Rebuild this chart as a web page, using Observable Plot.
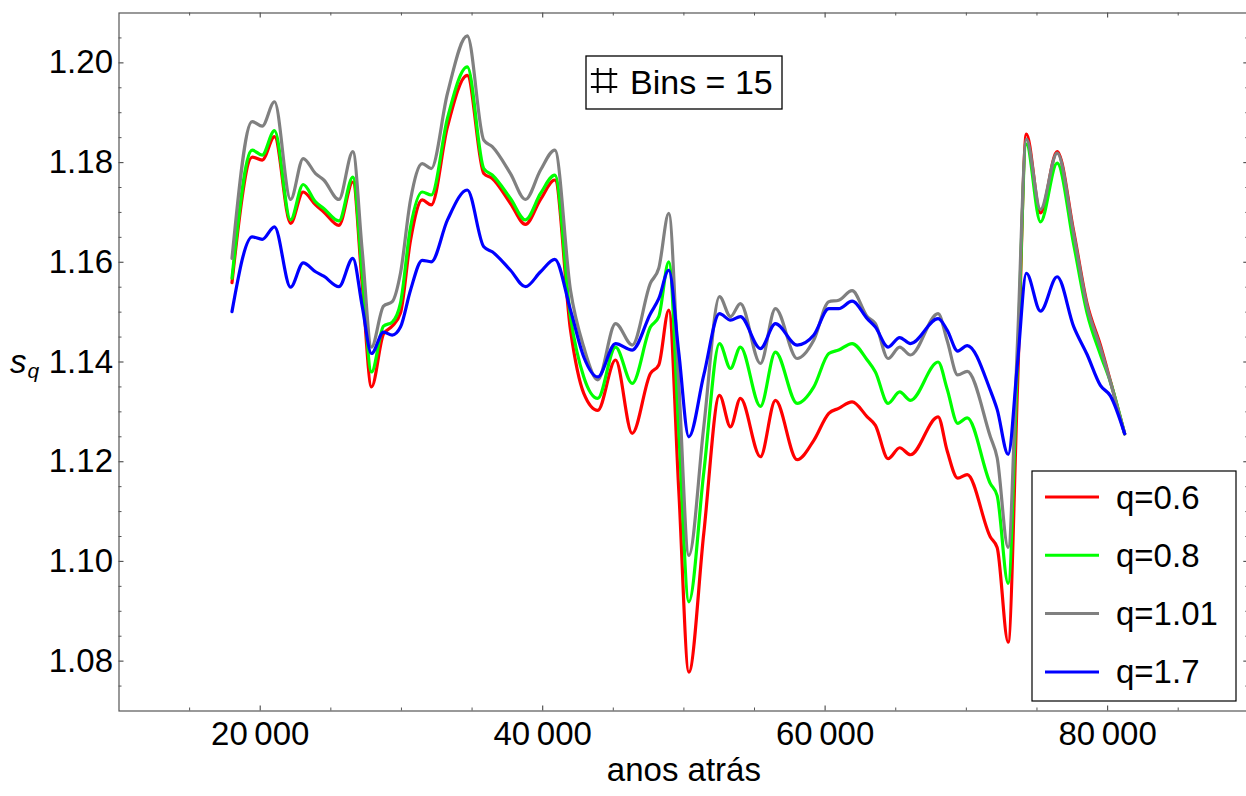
<!DOCTYPE html>
<html>
<head>
<meta charset="utf-8">
<script src="https://cdn.jsdelivr.net/npm/d3@7"></script>
<script src="https://cdn.jsdelivr.net/npm/@observablehq/plot@0.6"></script>
<style>
  html, body { margin: 0; padding: 0; background: #fff; }
  svg { display: block; }
</style>
</head>
<body>
<div id="chart"></div>
<script>
// ---------- data ----------
const years = [18000, 19430, 20140, 21010, 22150, 23040, 23920, 24500, 25570, 26560,
  27220, 27880, 28730, 29350, 29930, 30640, 31470, 32110, 33260, 34660,
  35830, 36430, 37720, 38780, 39850, 40860, 41970, 42910, 43900, 45160,
  46340, 47630, 48220, 48930, 49640, 50350, 51410, 52520, 53300, 54000,
  55420, 56480, 58020, 59200, 60260, 60960, 61910, 62980, 63560, 64460,
  65280, 66040, 68000, 68640, 69390, 70060, 71700, 72180, 72960, 73620,
  74250, 75250, 76430, 77600, 78550, 79490, 80200, 81210];

const q06 = [1.1559, 1.1811, 1.1805, 1.1852, 1.1678, 1.1741, 1.1715, 1.1701, 1.1674, 1.1761,
  1.1556, 1.1350, 1.1456, 1.1472, 1.1498, 1.1644, 1.1725, 1.1715, 1.1872, 1.1975,
  1.1778, 1.1768, 1.1718, 1.1676, 1.1726, 1.1765, 1.1464, 1.1337, 1.1303, 1.1404,
  1.1257, 1.1377, 1.1394, 1.1504, 1.1141, 1.0778, 1.1057, 1.1333, 1.1270, 1.1327,
  1.1210, 1.1323, 1.1204, 1.1243, 1.1297, 1.1307, 1.1320, 1.1290, 1.1273, 1.1206,
  1.1228, 1.1214, 1.1290, 1.1222, 1.1167, 1.1174, 1.1049, 1.1028, 1.0838, 1.1348,
  1.1857, 1.1699, 1.1822, 1.1662, 1.1517, 1.1434, 1.1362, 1.1256];

const q08 = [1.1568, 1.1825, 1.1815, 1.1864, 1.1685, 1.1756, 1.1721, 1.1708, 1.1683, 1.1771,
  1.1576, 1.1380, 1.1472, 1.1480, 1.1518, 1.1670, 1.1741, 1.1735, 1.1889, 1.1992,
  1.1788, 1.1775, 1.1728, 1.1685, 1.1738, 1.1775, 1.1490, 1.1370, 1.1327, 1.1430,
  1.1357, 1.1470, 1.1491, 1.1601, 1.1259, 1.0919, 1.1179, 1.1437, 1.1387, 1.1430,
  1.1311, 1.1420, 1.1317, 1.1350, 1.1417, 1.1424, 1.1437, 1.1404, 1.1380, 1.1317,
  1.1340, 1.1323, 1.1400, 1.1346, 1.1277, 1.1288, 1.1156, 1.1132, 1.0956, 1.1397,
  1.1837, 1.1681, 1.1799, 1.1636, 1.1498, 1.1415, 1.1360, 1.1256];

const q101 = [1.1608, 1.1882, 1.1873, 1.1922, 1.1726, 1.1808, 1.1778, 1.1765, 1.1726, 1.1822,
  1.1624, 1.1430, 1.1512, 1.1521, 1.1578, 1.1725, 1.1798, 1.1788, 1.1939, 1.2054,
  1.1845, 1.1832, 1.1778, 1.1726, 1.1785, 1.1825, 1.1544, 1.1430, 1.1364, 1.1477,
  1.1434, 1.1558, 1.1588, 1.1698, 1.1356, 1.1012, 1.1271, 1.1531, 1.1491, 1.1517,
  1.1397, 1.1507, 1.1407, 1.1444, 1.1521, 1.1524, 1.1543, 1.1491, 1.1477, 1.1407,
  1.1430, 1.1414, 1.1497, 1.1443, 1.1374, 1.1381, 1.1250, 1.1208, 1.1028, 1.1438,
  1.1847, 1.1706, 1.1819, 1.1657, 1.1512, 1.1429, 1.1360, 1.1256];

const q17 = [1.1501, 1.1651, 1.1646, 1.1671, 1.1550, 1.1599, 1.1581, 1.1572, 1.1551, 1.1608,
  1.1512, 1.1417, 1.1460, 1.1454, 1.1470, 1.1544, 1.1604, 1.1601, 1.1685, 1.1745,
  1.1631, 1.1621, 1.1584, 1.1551, 1.1581, 1.1606, 1.1504, 1.1410, 1.1370, 1.1437,
  1.1424, 1.1497, 1.1527, 1.1584, 1.1418, 1.1250, 1.1374, 1.1497, 1.1484, 1.1491,
  1.1427, 1.1477, 1.1434, 1.1454, 1.1507, 1.1507, 1.1522, 1.1487, 1.1470, 1.1430,
  1.1449, 1.1437, 1.1487, 1.1464, 1.1422, 1.1433, 1.1343, 1.1305, 1.1215, 1.1397,
  1.1578, 1.1502, 1.1571, 1.1471, 1.1415, 1.1353, 1.1332, 1.1256];

const seriesNames = ["q=0.6", "q=0.8", "q=1.01", "q=1.7"];
const seriesColors = ["#ff0000", "#00ff00", "#808080", "#0000ff"];
const seriesValues = [q06, q08, q101, q17];

const xDomain = [10000, 90000];
const yDomain = [1.07, 1.21];
const xTicks = [20000, 40000, 60000, 80000];
const xMinorTicks = [15000, 25000, 30000, 35000, 45000, 50000, 55000, 65000, 70000, 75000, 85000];
const yTicks = [1.08, 1.10, 1.12, 1.14, 1.16, 1.18, 1.20];
const yMinorTicks = [1.075, 1.085, 1.09, 1.095, 1.105, 1.11, 1.115, 1.125, 1.13, 1.135, 1.145,
  1.15, 1.155, 1.165, 1.17, 1.175, 1.185, 1.19, 1.195, 1.205];

const xLabel = "anos atrás";
const yLabelMain = "s";
const yLabelSub = "q";
const noteSymbol = "\u2317";
const noteText = "Bins = 15";

// ---------- long table ----------
const rows = [];
seriesNames.forEach((name, i) => {
  years.forEach((yr, j) => rows.push({year: yr, value: seriesValues[i][j], series: name}));
});

// ---------- layout ----------
const W = 1246, H = 796;
const mL = 118.5, mT = 12.5, mB = 85.5, mR = -2.3;
const frameW = W - mL - mR, frameH = H - mT - mB;
const axisColor = "#555";
const FONT = "'Liberation Sans', Arial, Helvetica, sans-serif";
const fmtX = d => { const s = String(d); return s.slice(0, s.length - 3) + "\u2009" + s.slice(-3); };

const plot = Plot.plot({
  width: W,
  height: H,
  marginLeft: mL,
  marginTop: mT,
  marginBottom: mB,
  marginRight: mR,
  style: {fontFamily: FONT, fontSize: "33px", color: "black", background: "white", overflow: "visible"},
  x: {domain: xDomain, label: null},
  y: {domain: yDomain, label: null},
  color: {domain: seriesNames, range: seriesColors},
  marks: [
    Plot.line(rows, {x: "year", y: "value", z: "series", stroke: "series",
      curve: "monotone-x", strokeWidth: 3.2, strokeLinejoin: "round"}),
    Plot.frame({stroke: axisColor, strokeWidth: 1.2}),
    // inward ticks (bottom / top)
    Plot.ruleX(xTicks, {x: d => d, insetTop: frameH - 5, stroke: axisColor, strokeWidth: 1.2}),
    Plot.ruleX(xMinorTicks, {x: d => d, insetTop: frameH - 3, stroke: axisColor, strokeWidth: 1}),
    Plot.ruleX(xTicks, {x: d => d, insetBottom: frameH - 5, stroke: axisColor, strokeWidth: 1.2}),
    Plot.ruleX(xMinorTicks, {x: d => d, insetBottom: frameH - 3, stroke: axisColor, strokeWidth: 1}),
    // inward ticks (left / right)
    Plot.ruleY(yTicks, {y: d => d, insetRight: frameW - 5, stroke: axisColor, strokeWidth: 1.2}),
    Plot.ruleY(yMinorTicks, {y: d => d, insetRight: frameW - 3, stroke: axisColor, strokeWidth: 1}),
    Plot.ruleY(yTicks, {y: d => d, insetLeft: frameW - 5, stroke: axisColor, strokeWidth: 1.2}),
    Plot.ruleY(yMinorTicks, {y: d => d, insetLeft: frameW - 3, stroke: axisColor, strokeWidth: 1}),
    // tick labels
    Plot.axisX({ticks: xTicks, tickFormat: fmtX, tickSize: 0, tickPadding: 11, label: null,
      fontSize: 33, fill: "black"}),
    Plot.axisY({ticks: yTicks, tickFormat: d => d.toFixed(2), tickSize: 0, tickPadding: 6, label: null,
      fontSize: 33, fill: "black"}),
    // axis labels
    Plot.text([xLabel], {text: d => d, frameAnchor: "bottom", dy: 70, fontSize: 33, fill: "black"}),
    Plot.text([yLabelMain], {text: d => d, frameAnchor: "left", textAnchor: "start", dx: -109, dy: 0,
      fontSize: 33, fontStyle: "italic", fill: "black"}),
    Plot.text([yLabelSub], {text: d => d, frameAnchor: "left", textAnchor: "start", dx: -91.5, dy: 9,
      fontSize: 21, fontStyle: "italic", fill: "black"})
  ]
});

document.getElementById("chart").appendChild(plot);

// ---------- legend and annotation (drawn into the same SVG) ----------
const svg = d3.select(plot);

const note = svg.append("g").attr("class", "note").attr("text-anchor", "start");
note.append("rect").attr("x", 586).attr("y", 56).attr("width", 196).attr("height", 53)
  .attr("fill", "white").attr("stroke", "black").attr("stroke-width", 1.3);
note.append("text").attr("x", 590).attr("y", 97).attr("text-anchor", "start")
  .attr("font-family", "'DejaVu Sans', sans-serif").attr("font-size", 50).attr("fill", "black")
  .text(noteSymbol);
note.append("text").attr("x", 630).attr("y", 94.3).attr("text-anchor", "start")
  .attr("font-family", FONT).attr("font-size", 34).attr("fill", "black")
  .text(noteText);

const legend = svg.append("g").attr("class", "legend").attr("text-anchor", "start");
legend.append("rect").attr("x", 1032).attr("y", 471).attr("width", 204).attr("height", 230)
  .attr("fill", "white").attr("stroke", "black").attr("stroke-width", 1.2);
seriesNames.forEach((name, i) => {
  const y = 497 + i * 58.3;
  legend.append("line").attr("x1", 1045).attr("x2", 1099).attr("y1", y).attr("y2", y)
    .attr("stroke", seriesColors[i]).attr("stroke-width", 3);
  legend.append("text").attr("x", 1116).attr("y", y).attr("dy", "0.35em").attr("text-anchor", "start")
    .attr("font-family", FONT).attr("font-size", 33).attr("fill", "black")
    .text(name);
});
</script>
</body>
</html>
